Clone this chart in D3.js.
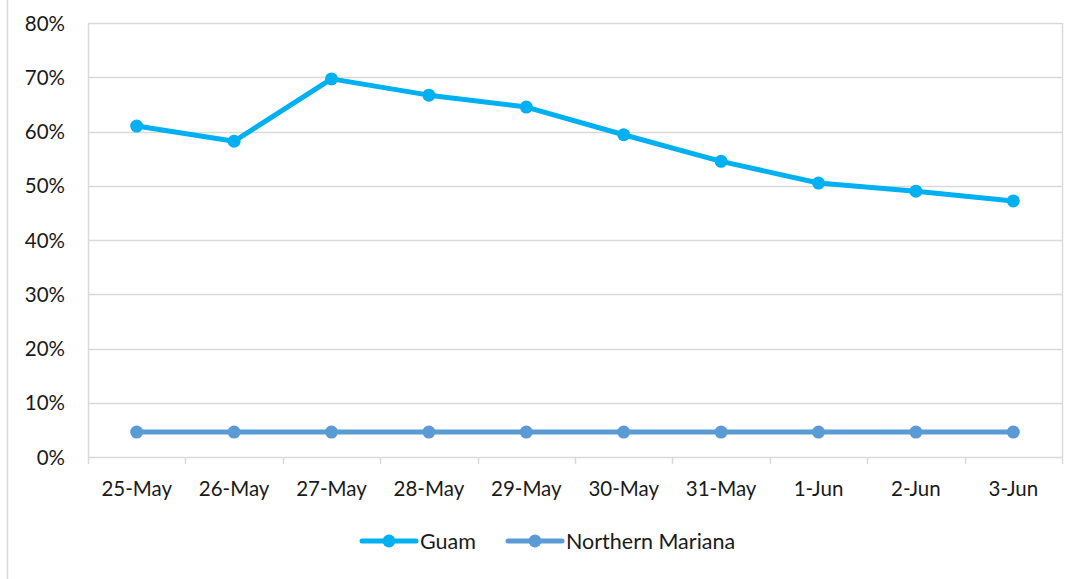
<!DOCTYPE html>
<html><head><meta charset="utf-8">
<script src="https://cdn.jsdelivr.net/npm/d3@7"></script>
<style>body{margin:0;background:#fff}svg{display:block}text{font-family:Lato,"Open Sans",sans-serif;fill:#1a1a1a}</style>
</head><body><svg id="c" width="1080" height="579"></svg>
<script>
const categories = ["25-May","26-May","27-May","28-May","29-May","30-May","31-May","1-Jun","2-Jun","3-Jun"];
const guam = [0.610,0.582,0.697,0.667,0.645,0.594,0.545,0.505,0.490,0.472];
const northernMariana = [0.046,0.046,0.046,0.046,0.046,0.046,0.046,0.046,0.046,0.046];
const yTicks = [0,0.1,0.2,0.3,0.4,0.5,0.6,0.7,0.8];
const seriesNames = ["Guam","Northern Mariana"];
const colors = ["#00B0F0","#5B9BD5"];

const svg = d3.select("#c");
const L=88,R=1062,T=23,B=457;
svg.append("line").attr("x1",7.5).attr("x2",7.5).attr("y1",0).attr("y2",579).attr("stroke","#d9d9d9").attr("stroke-width",1.5);
const x = d3.scaleBand().domain(categories).range([L,R]);
const y = d3.scaleLinear().domain([0,0.8]).range([B,T]);

svg.append("g").selectAll("line").data(yTicks).join("line")
  .attr("x1",L).attr("x2",R).attr("y1",d=>Math.round(y(d))+0.5).attr("y2",d=>Math.round(y(d))+0.5)
  .attr("stroke","#d9d9d9").attr("stroke-width",1.5);
svg.append("line").attr("x1",L+0.5).attr("x2",L+0.5).attr("y1",T).attr("y2",B).attr("stroke","#d9d9d9").attr("stroke-width",1.5);
svg.append("line").attr("x1",R+0.5).attr("x2",R+0.5).attr("y1",T).attr("y2",B).attr("stroke","#d9d9d9").attr("stroke-width",1.5);

const yAxis = d3.axisLeft(y).tickValues(yTicks).tickFormat(d3.format(".0%")).tickSize(0).tickPadding(0);
const gy = svg.append("g").attr("transform",`translate(${L-23},0)`).call(yAxis);
gy.select(".domain").remove();
gy.selectAll("text").attr("font-size",20.5).style("fill","#1a1a1a").attr("dy","0.35em");

const xAxis = d3.axisBottom(x).tickSize(0).tickPadding(0);
const gx = svg.append("g").attr("transform",`translate(0,${B})`).call(xAxis);
gx.select(".domain").remove();
gx.selectAll("text").attr("font-size",20.5).style("fill","#1a1a1a").attr("y",39).attr("dy","0");
const bounds = categories.map(c=>x(c)).concat([R]);
svg.append("g").selectAll("line").data(bounds).join("line")
  .attr("x1",d=>Math.round(d)+0.5).attr("x2",d=>Math.round(d)+0.5).attr("y1",B).attr("y2",B+7)
  .attr("stroke","#d9d9d9").attr("stroke-width",1.5);

const cx = c=>x(c)+x.bandwidth()/2;
const series=[guam,northernMariana];
series.forEach((vals,i)=>{
  const line=d3.line().x((d,j)=>cx(categories[j])).y(d=>y(d));
  svg.append("path").datum(vals).attr("d",line).attr("fill","none").attr("stroke",colors[i]).attr("stroke-width",5).attr("stroke-linejoin","round");
  svg.append("g").selectAll("circle").data(vals).join("circle")
    .attr("cx",(d,j)=>cx(categories[j])).attr("cy",d=>y(d)).attr("r",6.5).attr("fill",colors[i]);
});

const legX=[362,508];
seriesNames.forEach((n,i)=>{
  const g=svg.append("g").attr("transform",`translate(${legX[i]},541)`);
  g.append("line").attr("x1",0).attr("x2",54).attr("stroke",colors[i]).attr("stroke-width",5).attr("stroke-linecap","round");
  g.append("circle").attr("cx",27).attr("r",6.5).attr("fill",colors[i]);
  g.append("text").attr("x",58).attr("dy","0.35em").attr("font-size",21.5).text(n);
});
</script></body></html>
